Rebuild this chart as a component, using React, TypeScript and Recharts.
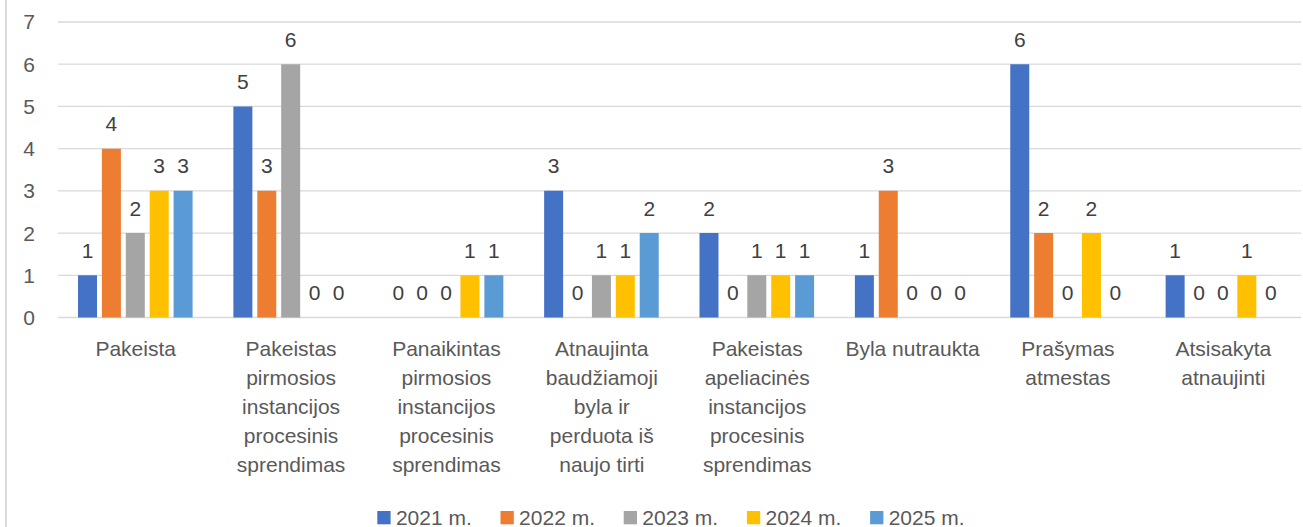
import React from "react";
import { BarChart, Bar, XAxis, YAxis, CartesianGrid, Legend, LabelList } from "recharts";

const categories = [
  "Pakeista",
  "Pakeistas\npirmosios\ninstancijos\nprocesinis\nsprendimas",
  "Panaikintas\npirmosios\ninstancijos\nprocesinis\nsprendimas",
  "Atnaujinta\nbaudžiamoji\nbyla ir\nperduota iš\nnaujo tirti",
  "Pakeistas\napeliacinės\ninstancijos\nprocesinis\nsprendimas",
  "Byla nutraukta",
  "Prašymas\natmestas",
  "Atsisakyta\natnaujinti",
];
const s2021 = [1, 5, 0, 3, 2, 1, 6, 1];
const s2022 = [4, 3, 0, 0, 0, 3, 2, 0];
const s2023 = [2, 6, 0, 1, 1, 0, 0, 0];
const s2024 = [3, 0, 1, 1, 1, 0, 2, 1];
const s2025 = [3, 0, 1, 2, 1, 0, 0, 0];
const seriesNames = ["2021 m.", "2022 m.", "2023 m.", "2024 m.", "2025 m."];
const seriesKeys = ["y2021", "y2022", "y2023", "y2024", "y2025"];
const colors = ["#4472C4", "#ED7D31", "#A5A5A5", "#FFC000", "#5B9BD5"];
const yTicks = [0, 1, 2, 3, 4, 5, 6, 7];

const allSeries = [s2021, s2022, s2023, s2024, s2025];
const data = categories.map((c, i) => {
  const row: any = { category: c };
  seriesKeys.forEach((k, j) => (row[k] = allSeries[j][i]));
  return row;
});

const FONT = "'Liberation Sans', Arial, sans-serif";
const FS = 21;

const CategoryTick = (props: any) => {
  const { x, y, payload } = props;
  const lines = String(payload.value).split("\n");
  return (
    <text x={x} y={y + 38.5} textAnchor="middle" fill="#595959" fontSize={FS} fontFamily={FONT}>
      {lines.map((l, i) => (
        <tspan key={i} x={x} dy={i === 0 ? 0 : 29}>
          {l}
        </tspan>
      ))}
    </text>
  );
};

const LegendContent = () => (
  <svg width={1303} height={29} style={{ overflow: "visible", display: "block" }}>
    {seriesNames.map((n, i) => {
      const x0 = 377.3 + i * 123.2;
      return (
        <g key={n}>
          <rect x={x0} y={13} width={13.3} height={13.3} fill={colors[i]} />
          <text x={x0 + 18.6} y={26.5} fill="#595959" fontSize={FS} fontFamily={FONT}>
            {n}
          </text>
        </g>
      );
    })}
  </svg>
);

export default function App() {
  return (
    <div style={{ position: "absolute", left: 0, top: 0, width: 1303, height: 527, background: "#fff" }}>
      <div style={{ position: "absolute", left: 5, top: 0, width: 2, height: 527, background: "#D9D9D9" }} />
      <BarChart
        width={1303}
        height={527}
        data={data}
        margin={{ top: 22, right: 2, left: 0, bottom: 0 }}
        barSize={19}
        barGap={4.9}
      >
        <CartesianGrid horizontal vertical={false} stroke="#D9D9D9" strokeWidth={1.3} />
        <XAxis
          dataKey="category"
          axisLine={false}
          tickLine={false}
          tickSize={0}
          tickMargin={0}
          height={180.5}
          interval={0}
          tick={<CategoryTick />}
        />
        <YAxis
          domain={[0, 7]}
          ticks={yTicks}
          axisLine={false}
          tickLine={false}
          tickSize={0}
          tickMargin={23}
          width={58}
          tick={{ fill: "#595959", fontSize: FS, fontFamily: FONT }}
        />
        <Legend
          verticalAlign="bottom"
          content={<LegendContent />}
          wrapperStyle={{ top: 498, left: 0, width: 1303, height: 29 }}
        />
        {seriesKeys.map((k, i) => (
          <Bar
            key={k}
            dataKey={k}
            name={seriesNames[i]}
            fill={colors[i]}
            minPointSize={0.01}
            isAnimationActive={false}
          >
            <LabelList
              dataKey={k}
              position="top"
              offset={17.5}
              fill="#404040"
              fontSize={FS}
              fontFamily={FONT}
            />
          </Bar>
        ))}
      </BarChart>
    </div>
  );
}
